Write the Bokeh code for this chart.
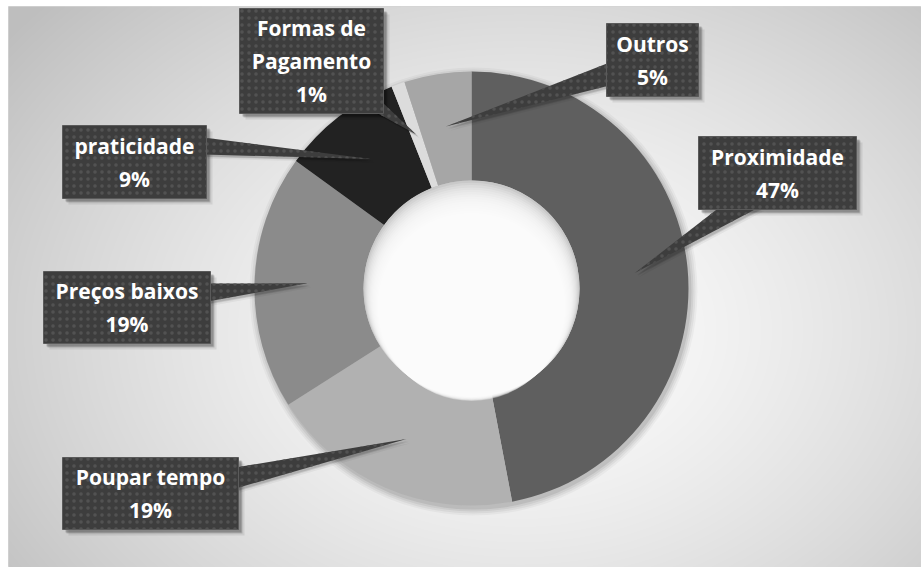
import numpy as np
from bokeh.plotting import figure
from bokeh.models import Range1d
from bokeh.core.properties import value
from bokeh.embed import file_html
from bokeh.resources import INLINE

# ---------------- data ----------------
categories = ["Proximidade", "Poupar tempo", "Preços baixos", "praticidade",
              "Formas de Pagamento", "Outros"]
percents = [47, 19, 19, 9, 1, 5]
label_lines = [["Proximidade"], ["Poupar tempo"], ["Preços baixos"], ["praticidade"],
               ["Formas de", "Pagamento"], ["Outros"]]
slice_colors = ["#5f5f5f", "#b1b1b1", "#8b8b8b", "#222222", "#dcdcdc", "#a6a6a6"]

# ---------------- layout (screen pixels) ----------------
PW, PH = 921, 567
LEFT_PAD, TOP_PAD = 8, 6
CX, CY = 471, 288
R_OUT, R_IN = 217, 108
TIP_R = 164

# callout boxes (left, top, right, bottom) in screen px
boxes = [(698, 136, 856, 209), (62, 457, 238, 529), (43, 271, 210, 343),
         (62, 125, 206, 198), (239, 8, 383, 113), (606, 23, 698, 96)]
# pointer bases (two points on the box edge) in screen px
bases = [((720, 206), (760, 206)), ((235, 467), (235, 488)), ((207, 283), (207, 301)),
         ((203, 137), (203, 154)), ((372, 110), (380, 100)), ((609, 62), (609, 85))]


def sy(y):
    return PH - y


p = figure(width=PW, height=PH, output_backend="svg", toolbar_location=None,
           x_range=Range1d(LEFT_PAD, PW), y_range=Range1d(0, PH - TOP_PAD),
           min_border_left=LEFT_PAD, min_border_top=TOP_PAD,
           min_border_right=0, min_border_bottom=0,
           outline_line_color="#d4d4d4")
p.axis.visible = False
p.grid.visible = False
p.background_fill_color = "#d0d0d0"
p.border_fill_color = "#ffffff"

# ---------------- background radial gradient ----------------
FW, FH = PW - LEFT_PAD, PH - TOP_PAD
xs = np.arange(FW) + LEFT_PAD + 0.5
ys_screen = PH - (np.arange(FH) + 0.5)
XX, YY = np.meshgrid(xs, ys_screen)
d = np.sqrt(((XX - 520) / 560.0) ** 2 + ((YY - 330) / 420.0) ** 2)
v = np.clip(254 - 52 * d ** 1.4, 190, 254).astype(np.uint32)
img = (255 << 24) | (v << 16) | (v << 8) | v
p.image_rgba(image=[img.astype(np.uint32)], x=LEFT_PAD, y=0, dw=FW, dh=FH)

# ---------------- donut ----------------
vals = np.array(percents, dtype=float)
frac = vals / vals.sum()
cum = np.concatenate([[0], np.cumsum(frac)])
start = np.pi / 2 - cum[:-1] * 2 * np.pi
end = np.pi / 2 - cum[1:] * 2 * np.pi

# soft shadow of ring
for k, a in [(7, 0.035), (5, 0.05), (3, 0.06), (1, 0.08)]:
    p.annular_wedge(x=CX + 2, y=sy(CY) - 3, inner_radius=R_IN - k, outer_radius=R_OUT + k,
                    start_angle=np.pi / 2, end_angle=np.pi / 2 - 2 * np.pi + 1e-6,
                    direction="clock", fill_color="black", fill_alpha=a, line_color=None)

p.annular_wedge(x=CX, y=sy(CY), inner_radius=R_IN, outer_radius=R_OUT,
                start_angle=start, end_angle=end, direction="clock",
                fill_color=slice_colors, line_color=None)

# hole with inner shadow
p.circle(x=CX, y=sy(CY), radius=R_IN, fill_color="#bcbcbc", line_color=None)
for k in range(16):
    p.circle(x=CX, y=sy(CY) - k * 1.3, radius=R_IN - k * 1.0,
             fill_color="white", fill_alpha=0.2, line_color=None)

# ---------------- callouts ----------------
mid = (cum[:-1] + cum[1:]) / 2 * 2 * np.pi
tip_x = CX + TIP_R * np.sin(mid)
tip_y = sy(CY) + TIP_R * np.cos(mid)

px_list, py_list = [], []
for (b1, b2), tx, ty in zip(bases, tip_x, tip_y):
    px_list.append([b1[0], tx, b2[0]])
    py_list.append([sy(b1[1]), ty, sy(b2[1])])

left = [b[0] for b in boxes]
right = [b[2] for b in boxes]
top = [sy(b[1]) for b in boxes]
bottom = [sy(b[3]) for b in boxes]

# shadows
for off, a in [(6, 0.08), (4, 0.15), (3, 0.2)]:
    p.quad(left=[l + off for l in left], right=[r + off for r in right],
           top=[t - off for t in top], bottom=[b - off for b in bottom],
           fill_color="black", fill_alpha=a, line_color=None)
    p.patches(xs=[[x + off * 0.7 for x in xx] for xx in px_list],
              ys=[[y - off * 0.7 for y in yy] for yy in py_list],
              fill_color="black", fill_alpha=a * 0.6, line_color=None)

p.patches(xs=px_list, ys=py_list, fill_color="#3d3d3d", line_color=None,
          hatch_pattern="dot", hatch_color="#525252", hatch_scale=7, hatch_weight=1.2)
p.quad(left=left, right=right, top=top, bottom=bottom, fill_color="#3d3d3d",
       line_color="#5a5a5a", line_width=1,
       hatch_pattern="dot", hatch_color="#525252", hatch_scale=7, hatch_weight=1.2)

# texts
tx_all, ty_all, tt_all = [], [], []
for (l, t, r, b), lines, pct in zip(boxes, label_lines, percents):
    all_lines = lines + [f"{pct}%"]
    n = len(all_lines)
    cxb = (l + r) / 2
    cyb = (t + b) / 2
    step = 33
    for i, s in enumerate(all_lines):
        yy = cyb + (i - (n - 1) / 2) * step
        tx_all.append(cxb)
        ty_all.append(sy(yy))
        tt_all.append(s)

p.text(x=tx_all, y=ty_all, text=tt_all, text_font=value("Open Sans"),
       text_font_style="bold", text_font_size="21px", text_color="white",
       text_align="center", text_baseline="middle")

open("out.html", "w").write(file_html(p, INLINE))
